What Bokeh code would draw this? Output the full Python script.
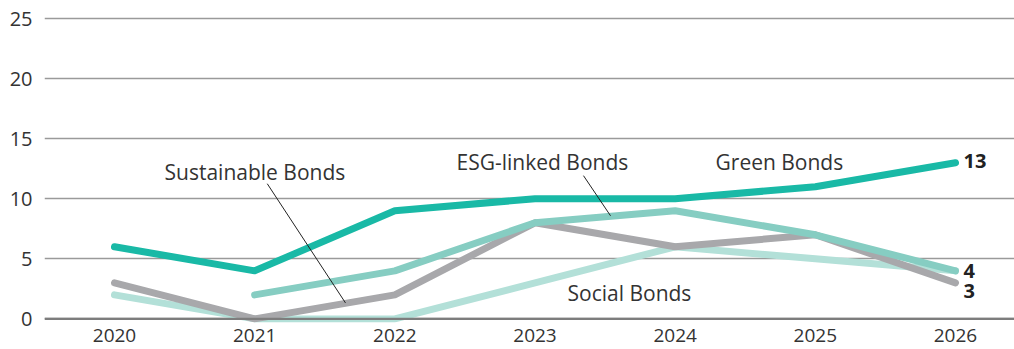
from bokeh.plotting import figure
from bokeh.models import FixedTicker, Range1d, Span
from bokeh.core.properties import value
from bokeh.embed import file_html
from bokeh.resources import INLINE

years = [2020, 2021, 2022, 2023, 2024, 2025, 2026]
green = [6, 4, 9, 10, 10, 11, 13]
esg_years = [2021, 2022, 2023, 2024, 2025, 2026]
esg = [2, 4, 8, 9, 7, 4]
sustainable = [3, 0, 2, 8, 6, 7, 3]
social = [2, 0, 0, 3, 6, 5, 4]
y_ticks = [0, 5, 10, 15, 20, 25]

FONT = "Open Sans"

p = figure(width=1014, height=349, output_backend="svg", toolbar_location=None,
           x_range=Range1d(2019.5006, 2026.421), y_range=Range1d(-0.3, 25.5),
           min_border_left=44, min_border_right=0, min_border_top=12, min_border_bottom=27)
p.outline_line_color = None
p.background_fill_color = "white"
p.border_fill_color = "white"

p.xgrid.grid_line_color = None
p.ygrid.ticker = FixedTicker(ticks=y_ticks)
p.ygrid.grid_line_color = "#9a9a9a"
p.ygrid.grid_line_width = 1.6
p.add_layout(Span(location=0, dimension="width", line_color="#7d7d7d", line_width=2.2))

p.yaxis.ticker = FixedTicker(ticks=y_ticks)
p.yaxis.axis_line_color = None
p.yaxis.major_tick_line_color = None
p.yaxis.minor_tick_line_color = None
p.yaxis.major_label_standoff = 6
p.yaxis.major_label_text_font = FONT
p.yaxis.major_label_text_font_size = "20px"
p.yaxis.major_label_text_color = "#333333"

p.xaxis.ticker = FixedTicker(ticks=years)
p.xaxis.major_label_overrides = {y: str(y) for y in years}
p.xaxis.axis_line_color = None
p.xaxis.major_tick_line_color = None
p.xaxis.minor_tick_line_color = None
p.xaxis.major_label_standoff = 0
p.xaxis.major_label_text_font = FONT
p.xaxis.major_label_text_font_size = "19px"
p.xaxis.major_label_text_color = "#333333"

LW = 7
p.line(years, social, line_color="#b3e0d8", line_width=LW, line_cap="round", line_join="round")
p.line(years, sustainable, line_color="#a8a8ab", line_width=LW, line_cap="round", line_join="round")
p.line(esg_years, esg, line_color="#86cdc2", line_width=LW, line_cap="round", line_join="round")
p.line(years, green, line_color="#19b9a6", line_width=LW, line_cap="round", line_join="round")

# leader lines
p.segment(x0=[2021.09, 2023.346], y0=[11.25, 11.92], x1=[2021.648, 2023.539], y1=[1.33, 8.58],
          line_color="#222222", line_width=1)

# series labels
p.text(x=[2020.357, 2022.44, 2024.288, 2023.232], y=[12.25, 13.08, 13.08, 2.17],
       text=["Sustainable Bonds", "ESG-linked Bonds", "Green Bonds", "Social Bonds"],
       text_font=value(FONT), text_font_size="21px", text_color="#333333",
       text_align="left", text_baseline="middle")

# end values
p.text(x=[2026.057, 2026.057, 2026.057], y=[13.17, 4.0, 2.33], text=["13", "4", "3"],
       text_font=value(FONT), text_font_size="20px", text_font_style="bold", text_color="#222222",
       text_align="left", text_baseline="middle")

open("out.html", "w").write(file_html(p, INLINE))
